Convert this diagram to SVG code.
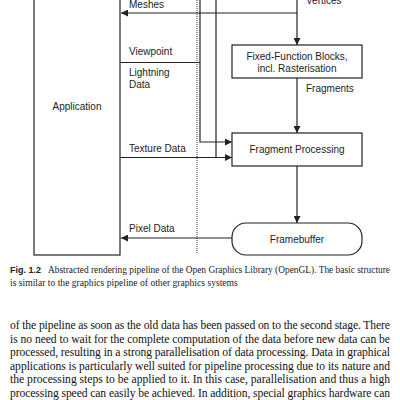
<svg xmlns="http://www.w3.org/2000/svg" width="400" height="400" viewBox="0 0 400 400">
<style>
.box{fill:#fff;stroke:#222;stroke-width:1.2}
.ln{fill:none;stroke:#222;stroke-width:1.2}
.lb{font-family:"Liberation Sans",Arial,sans-serif;font-size:10px;fill:#222}
.cap{font-family:"Liberation Serif","Times New Roman",serif;font-size:9.6px;fill:#222}
.capb{font-family:"Liberation Sans",Arial,sans-serif;font-size:9px;font-weight:bold;fill:#222}
.body{font-family:"Liberation Serif","Times New Roman",serif;font-size:11.6px;fill:#111}
</style>
<defs>
<marker id="ah" viewBox="0 0 10 10" refX="10" refY="5" markerWidth="8" markerHeight="7" markerUnits="userSpaceOnUse" orient="auto">
<path d="M0,0 L10,5 L0,10 Z" fill="#222"/>
</marker>
</defs>
<rect width="400" height="400" fill="#fff"/>
<g id="connectors">
<line x1="197" y1="0" x2="197" y2="253" stroke="#555" stroke-width="1.2" stroke-dasharray="1,1"/>
<path class="ln" d="M297,13 H121" marker-end="url(#ah)"/>
<path class="ln" d="M297,0 V45" marker-end="url(#ah)"/>
<path class="ln" d="M120,62.5 H200"/>
<path class="ln" d="M200,0 V142 H232" marker-end="url(#ah)"/>
<path class="ln" d="M216,0 V157.5"/>
<path class="ln" d="M120,157.5 H232" marker-end="url(#ah)"/>
<path class="ln" d="M297,78 V133" marker-end="url(#ah)"/>
<path class="ln" d="M297,166 V223" marker-end="url(#ah)"/>
<path class="ln" d="M232,238 H121" marker-end="url(#ah)"/>
<text class="lb" x="129" y="8">Meshes</text>
<text class="lb" x="306" y="4">Vertices</text>
<text class="lb" x="129" y="55">Viewpoint</text>
<text class="lb" x="129" y="76">Lightning</text>
<text class="lb" x="129" y="88">Data</text>
<text class="lb" x="129" y="152">Texture Data</text>
<text class="lb" x="306" y="92">Fragments</text>
<text class="lb" x="129" y="232">Pixel Data</text>
</g>
<g id="application">
<rect class="box" x="34" y="-5" width="86" height="260"/>
<text class="lb" x="77" y="110" text-anchor="middle">Application</text>
</g>
<g id="fixed-function">
<rect class="box" x="232" y="45" width="130" height="33"/>
<text class="lb" x="297" y="60" text-anchor="middle">Fixed-Function Blocks,</text>
<text class="lb" x="297" y="72" text-anchor="middle">incl. Rasterisation</text>
</g>
<g id="fragment-processing">
<rect class="box" x="232" y="133" width="130" height="33"/>
<text class="lb" x="297" y="153" text-anchor="middle">Fragment Processing</text>
</g>
<g id="framebuffer">
<rect class="box" x="232" y="223" width="130" height="32" rx="14" ry="14"/>
<text class="lb" x="297" y="243" text-anchor="middle">Framebuffer</text>
</g>
<g id="caption">
<text class="capb" x="10" y="273">Fig. 1.2</text>
<text class="cap" x="48" y="273" textLength="342" lengthAdjust="spacingAndGlyphs">Abstracted rendering pipeline of the Open Graphics Library (OpenGL). The basic structure</text>
<text class="cap" x="10" y="286">is similar to the graphics pipeline of other graphics systems</text>
</g>
<g id="body">
<text class="body" x="10" y="329" textLength="380" lengthAdjust="spacing">of the pipeline as soon as the old data has been passed on to the second stage. There</text>
<text class="body" x="10" y="342.5" textLength="380" lengthAdjust="spacing">is no need to wait for the complete computation of the data before new data can be</text>
<text class="body" x="10" y="356" textLength="380" lengthAdjust="spacing">processed, resulting in a strong parallelisation of data processing. Data in graphical</text>
<text class="body" x="10" y="369.5" textLength="380" lengthAdjust="spacing">applications is particularly well suited for pipeline processing due to its nature and</text>
<text class="body" x="10" y="383" textLength="380" lengthAdjust="spacing">the processing steps to be applied to it. In this case, parallelisation and thus a high</text>
<text class="body" x="10" y="396.5" textLength="380" lengthAdjust="spacing">processing speed can easily be achieved. In addition, special graphics hardware can</text>
</g>
</svg>
